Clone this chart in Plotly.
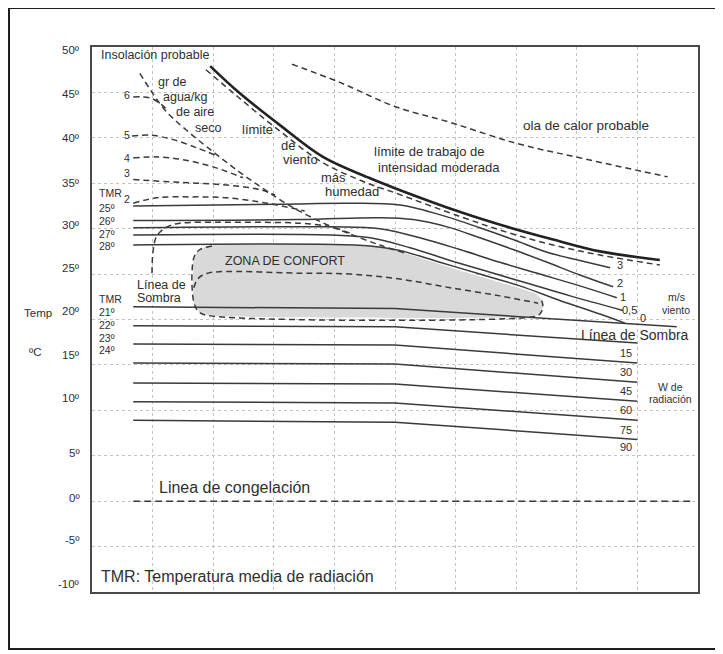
import plotly.graph_objects as go

# ---------------- data (x = relative humidity %, y = temperature ºC) ----------------
y_ticks = [50, 45, 40, 35, 30, 25, 20, 15, 10, 5, 0, -5, -10]
y_tick_text = ["50º", "45º", "40º", "35º", "30º", "25º", "20º", "15º", "10º", "5º", "0º", "-5º", "-10º"]

# radiation lines (W de radiación) and línea de sombra
rad_h = [6.8, 50, 90]
sombra_h = [6.8, 50, 96.5]
sombra_t = [21.4, 21.2, 19.2]
rad15_t = [19.3, 19.2, 17.4]
rad30_t = [17.3, 17.2, 15.2]
rad45_t = [15.2, 15.1, 13.1]
rad60_t = [13.0, 12.9, 11.0]
rad75_t = [10.95, 10.8, 8.9]
rad90_t = [8.9, 8.7, 6.8]
rad_labels = ["15", "30", "45", "60", "75", "90"]

# wind lines (m/s viento)
wind3_h = [6.8, 31.0, 42.6, 50.8, 58.6, 64.0, 69.5, 75.1, 80.5, 85.5]
wind3_t = [32.5, 32.7, 32.8, 32.6, 31.3, 30.1, 28.8, 27.4, 26.5, 25.7]
wind2_h = [6.8, 34.3, 47.5, 53.0, 58.6, 64.0, 69.5, 75.1, 80.5, 86.0]
wind2_t = [30.9, 31.0, 31.2, 31.0, 30.2, 29.0, 27.7, 26.3, 24.9, 23.6]
wind1_h = [6.8, 39.3, 47.5, 54.1, 60.7, 67.3, 73.9, 80.5, 86.6]
wind1_t = [30.1, 30.2, 30.0, 29.0, 27.7, 26.3, 25.0, 23.7, 22.4]
wind05_h = [6.8, 39.3, 45.9, 52.5, 59.1, 65.7, 72.3, 78.9, 87.6]
wind05_t = [29.3, 29.3, 29.0, 27.9, 26.5, 25.2, 23.9, 22.6, 21.0]
wind0_h = [6.8, 45.9, 50.8, 57.4, 64.0, 70.6, 77.2, 83.8, 87.95]
wind0_t = [28.2, 28.1, 27.6, 26.3, 25.0, 23.7, 22.1, 20.6, 19.6]
wind_labels = ["3", "2", "1", "0,5", "0"]

# humidity lines (gr de agua/kg de aire seco)
hum6_h = [6.8, 9.6, 11.2, 12.4]
hum6_t = [44.5, 44.4, 43.8, 43.1]
hum5_h = [6.6, 9.6, 13.4, 17.3, 20.3]
hum5_t = [40.2, 40.3, 39.8, 38.9, 38.1]
hum4_h = [6.8, 10.7, 15.0, 20.0, 24.9]
hum4_t = [37.8, 37.9, 37.6, 36.8, 35.6]
hum3_h = [6.8, 14.5, 22.3, 27.7, 30.2]
hum3_t = [35.4, 35.1, 34.8, 34.3, 33.7]
hum2_h = [6.8, 10.7, 16.2, 22.3, 28.9, 35.1]
hum2_t = [32.8, 33.4, 33.5, 33.4, 32.8, 31.95]

# límite de viento más humedad (dashed diagonal)
diag_h = [7.9, 12.0, 16.2, 20.3, 24.4, 28.5, 32.7, 37.6, 42.6, 47.5, 51.7]
diag_t = [47.1, 43.1, 40.5, 38.3, 36.2, 34.3, 32.5, 30.8, 29.4, 28.2, 27.3]

# límite de trabajo de intensidad moderada
limit_h = [19.5, 24.4, 31.0, 38.1, 45.7, 50.2, 60.9, 68.5, 76.1, 83.8, 93.7]
limit_t = [47.9, 44.9, 41.4, 37.9, 35.6, 34.4, 31.8, 30.2, 28.8, 27.5, 26.55]
limit2_h = [18.8, 24.1, 30.7, 38.0, 45.5, 50.2, 60.9, 68.5, 76.1, 83.8, 93.7]
limit2_t = [47.5, 44.5, 40.9, 37.3, 35.0, 33.9, 31.3, 29.6, 28.2, 27.1, 26.0]

# ola de calor probable
ola_h = [33.0, 40.9, 50.2, 59.1, 70.0, 80.5, 95.0]
ola_t = [48.1, 46.1, 43.4, 41.7, 39.4, 37.8, 35.7]

# línea de sombra (outer dashed loop)
loop_h = [9.9, 10.1, 10.7, 12.4, 14.5, 21.1, 27.7, 34.3, 39.3, 42.6]
loop_t = [25.1, 27.65, 29.2, 30.2, 30.6, 30.7, 30.7, 30.6, 30.2, 29.5]

# zona de confort
zone_h = [19.1, 48.0, 54.1, 60.7, 67.3, 73.1, 74.1, 74.4, 73.9, 72.8, 19.5, 17.7, 16.8, 16.8, 17.7, 19.1]
zone_t = [28.1, 28.0, 26.8, 25.4, 24.1, 22.9, 22.3, 21.4, 20.6, 20.3, 20.4, 20.8, 21.9, 26.8, 27.65, 28.1]
zone_edge_h = [19.8, 17.7, 16.8, 16.8, 17.7, 19.5, 72.8, 73.9, 74.4, 74.1]
zone_edge_t = [28.1, 27.65, 26.8, 21.9, 20.8, 20.4, 20.3, 20.6, 21.4, 22.3]
zone_inner_h = [16.8, 17.5, 19.1, 34.3, 42.6, 50.8, 59.1, 67.3, 73.6]
zone_inner_t = [23.5, 24.5, 25.1, 25.1, 25.0, 24.45, 23.5, 22.6, 21.8]

# línea de congelación
freeze_h = [6.8, 99.0]
freeze_t = [0, 0]

# ---------------- figure ----------------
LINE = "#3a3a3a"
TXT = "#2f2f2f"
FONT = "Liberation Sans, Arial, sans-serif"
DASH = "6px,4px"

fig = go.Figure()


def add(h, t, width=1.5, dash="solid", color=LINE, shape="linear", **kw):
    fig.add_trace(go.Scatter(x=h, y=t, mode="lines", hoverinfo="skip", showlegend=False,
                             line=dict(color=color, width=width, dash=dash, shape=shape), **kw))


# comfort zone fill
fig.add_trace(go.Scatter(x=zone_h, y=zone_t, mode="lines", fill="toself", fillcolor="#d9d9d9",
                         line=dict(width=0, shape="spline", smoothing=0.4), hoverinfo="skip", showlegend=False))

for tt in [rad15_t, rad30_t, rad45_t, rad60_t, rad75_t, rad90_t]:
    add(rad_h, tt)
add(sombra_h, sombra_t)

for hh, tt in [(wind3_h, wind3_t), (wind2_h, wind2_t), (wind1_h, wind1_t), (wind05_h, wind05_t), (wind0_h, wind0_t)]:
    add(hh, tt, shape="spline")

for hh, tt in [(hum6_h, hum6_t), (hum5_h, hum5_t), (hum4_h, hum4_t), (hum3_h, hum3_t), (hum2_h, hum2_t)]:
    add(hh, tt, dash=DASH, shape="spline")

add(diag_h, diag_t, dash=DASH, shape="spline")
add(limit2_h, limit2_t, dash=DASH, shape="spline")
add(limit_h, limit_t, width=2.6, color="#222222", shape="spline")
add(ola_h, ola_t, dash=DASH, shape="spline")
add(loop_h, loop_t, dash=DASH, shape="spline")
add(zone_edge_h, zone_edge_t, dash=DASH, shape="spline")
add(zone_inner_h, zone_inner_t, dash=DASH, shape="spline")
add(freeze_h, freeze_t, dash="7px,4px")

# ---------------- layout ----------------
# the page body has an 8px default margin, so the figure is drawn 8px in from the window edge
OFF = 8
W, H = 723 - OFF, 654 - OFF
L, R, T, B = 92 - OFF, 25, 47 - OFF, 62
PW, PH = W - L - R, H - T - B


def px(ox, oy):
    """window pixel -> paper coordinates"""
    return (ox - OFF - L) / PW, (H - B - (oy - OFF)) / PH


annotations = []


def label(text, ox, oy, size=12, anchor="center"):
    x, y = px(ox, oy)
    annotations.append(dict(text=text, x=x, y=y, xref="paper", yref="paper", showarrow=False,
                            xanchor=anchor, yanchor="middle", font=dict(family=FONT, size=size, color=TXT)))


# y tick labels (printed slightly off their grid lines in the original scan)
tick_label_y = [50, 94, 138, 183, 225, 268, 311, 355, 398, 453, 498, 540, 584]
for t, oy in zip(y_tick_text, tick_label_y):
    label(t, 82, oy, 11.5, "right")

label("Insolación probable", 99, 55, 12.5, "left")
label("gr de", 172, 82, 12.5)
label("agua/kg", 185, 97, 12.5)
label("de aire", 195, 112, 12.5)
label("seco", 208, 128, 12.5)
label("límite", 257, 130, 13)
label("de", 288, 145, 13)
label("viento", 300, 160, 13)
label("más", 333, 177, 13)
label("humedad", 352, 192, 13)
label("límite de trabajo de", 429, 152, 13)
label("intensidad moderada", 439, 167, 13)
label("ola de calor probable", 586, 125, 13.5)
label("ZONA DE CONFORT", 285, 261, 12.5)
label("Línea de", 135, 285, 12.5, "left")
label("Sombra", 135, 298, 12.5, "left")

label("TMR", 97, 193, 10.5, "left")
for i, t in enumerate(["25º", "26º", "27º", "28º"]):
    label(t, 97, 208 + 12.8 * i, 10.5, "left")
label("TMR", 97, 299, 10.5, "left")
for i, t in enumerate(["21º", "22º", "23º", "24º"]):
    label(t, 97, 312 + 12.8 * i, 10.5, "left")

for t, oy in zip(["6", "5", "4", "3", "2"], [95, 135, 158, 173, 199]):
    label(t, 127, oy, 10.5)

for t, ox, oy in zip(wind_labels, [620, 620, 623, 629, 643], [265, 283, 297, 310, 318]):
    label(t, ox, oy, 11)
label("m/s", 676, 297, 10.5)
label("viento", 676, 310, 10.5)

label("Línea de Sombra", 635, 335, 14)
for t, oy in zip(rad_labels, [353, 372, 391, 410, 430, 447]):
    label(t, 626, oy, 11)
label("W de", 670, 387, 10.5)
label("radiación", 670, 399, 10.5)

label("Linea de congelación", 157, 487, 16, "left")
label("TMR: Temperatura media de radiación", 99, 576, 16, "left")
label("Temp", 38, 313, 11.5)
label("ºC", 35, 352, 11.5)

bx0, by0 = px(OFF + 1, 649)
bx1, by1 = px(718, 8)

fig.update_layout(
    width=W, height=H,
    margin=dict(l=L, r=R, t=T, b=B, pad=0),
    paper_bgcolor="white", plot_bgcolor="white",
    showlegend=False,
    hovermode=False,
    annotations=annotations,
    shapes=[dict(type="rect", xref="paper", yref="paper", x0=bx0, y0=by0, x1=bx1, y1=by1,
                 line=dict(color="#1e1e1e", width=2), layer="below")],
    xaxis=dict(range=[0, 100], dtick=10, showticklabels=False, ticks="",
               showgrid=True, gridcolor="#c4c4c4", griddash="dot", gridwidth=1,
               showline=True, mirror=True, linecolor="#4a4a4a", linewidth=1.5, zeroline=False,
               fixedrange=True),
    yaxis=dict(range=[-10, 50], tickvals=y_ticks, showticklabels=False, ticks="",
               showgrid=True, gridcolor="#c4c4c4", griddash="dot", gridwidth=1,
               showline=True, mirror=True, linecolor="#4a4a4a", linewidth=1.5, zeroline=False,
               fixedrange=True),
    font=dict(family=FONT, color=TXT),
)

fig.write_html("out.html")
